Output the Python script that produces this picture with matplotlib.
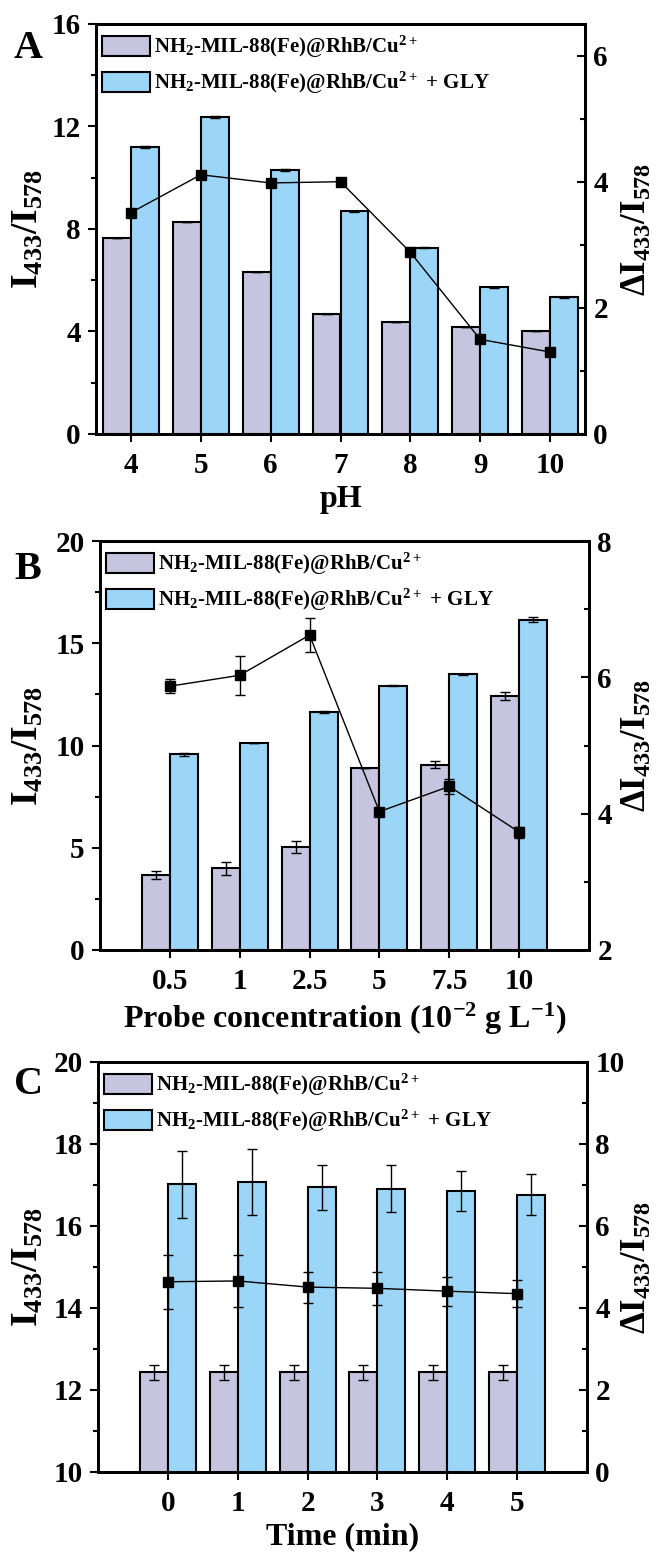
import matplotlib
matplotlib.use('Agg')
import matplotlib.pyplot as plt
from matplotlib.ticker import MultipleLocator
from matplotlib.patches import Patch

plt.rcParams['font.family'] = ['Liberation Serif', 'DejaVu Serif']
plt.rcParams['font.weight'] = 'bold'
plt.rcParams['axes.labelweight'] = 'bold'
plt.rcParams['mathtext.default'] = 'regular'

# ---- data ----
# panel A: pH
ph_labels = ['4', '5', '6', '7', '8', '9', '10']
ph_probe = [7.66, 8.29, 6.32, 4.69, 4.36, 4.17, 4.01]
ph_probe_err = [0, 0, 0, 0, 0, 0, 0]
ph_gly = [11.19, 12.38, 10.31, 8.69, 7.27, 5.72, 5.34]
ph_gly_err = [0.03, 0.03, 0.03, 0.02, 0.02, 0.02, 0.02]
ph_delta = [3.51, 4.11, 3.98, 4.00, 2.88, 1.50, 1.30]
ph_delta_err = [0, 0, 0, 0, 0, 0, 0]

# panel B: probe concentration
conc_labels = ['0.5', '1', '2.5', '5', '7.5', '10']
conc_probe = [3.68, 3.99, 5.02, 8.91, 9.07, 12.41]
conc_probe_err = [0.2, 0.3, 0.3, 0.0, 0.17, 0.2]
conc_gly = [9.56, 10.10, 11.64, 12.93, 13.49, 16.16]
conc_gly_err = [0.05, 0.0, 0.03, 0.04, 0.03, 0.1]
conc_delta = [5.87, 6.03, 6.62, 4.03, 4.40, 3.73]
conc_delta_err = [0.1, 0.29, 0.25, 0.05, 0.11, 0.08]

# panel C: time
time_labels = ['0', '1', '2', '3', '4', '5']
time_probe = [12.43, 12.43, 12.43, 12.43, 12.43, 12.43]
time_probe_err = [0.19, 0.19, 0.19, 0.19, 0.19, 0.19]
time_gly = [17.02, 17.07, 16.94, 16.91, 16.85, 16.76]
time_gly_err = [0.82, 0.8, 0.56, 0.57, 0.48, 0.5]
time_delta = [4.64, 4.66, 4.51, 4.48, 4.41, 4.35]
time_delta_err = [0.66, 0.63, 0.38, 0.4, 0.35, 0.33]

purple = '#C6C4DE'
blue = '#9BD6F9'
leg1 = r'NH$_2$-MIL-88(Fe)@RhB/Cu$^{2+}$'
leg2 = r'NH$_2$-MIL-88(Fe)@RhB/Cu$^{2+}$ + GLY'

W, H = 657, 1555


def panel(ax, labels, p, pe, g, ge, d, de, ylim, ymaj, ymin, y2lim, y2maj, y2min, xlim, xlabel):
    x = list(range(len(labels)))
    ek = dict(ecolor='black', elinewidth=1, capsize=3.5, capthick=1)
    ax.bar([i - 0.2 for i in x], p, 0.4, color=purple, edgecolor='black', linewidth=1.5,
           yerr=pe, error_kw=ek, zorder=2)
    ax.bar([i + 0.2 for i in x], g, 0.4, color=blue, edgecolor='black', linewidth=1.5,
           yerr=ge, error_kw=ek, zorder=2)
    ax.set_xlim(*xlim)
    ax.set_ylim(*ylim)
    ax.set_xticks(x)
    ax.set_xticklabels(labels)
    ax.yaxis.set_major_locator(MultipleLocator(ymaj))
    ax.yaxis.set_minor_locator(MultipleLocator(ymin))
    ax.tick_params(axis='y', which='major', direction='out', length=6, width=1.5, labelsize=21, pad=5)
    ax.tick_params(axis='y', which='minor', direction='out', length=3.5, width=1.5)
    ax.tick_params(axis='x', direction='out', length=6, width=1.5, labelsize=21, pad=7)
    for s in ax.spines.values():
        s.set_linewidth(2)
    ax.set_xlabel(xlabel, fontsize=23, labelpad=4)
    ax.set_ylabel('I$_{433}$/I$_{578}$', fontsize=27)
    pos = ax.get_position()
    left_px, width_px = pos.x0 * W, pos.width * W
    ax.yaxis.set_label_coords((46 - left_px) / width_px, 0.5)

    ax2 = ax.twinx()
    ax2.errorbar(x, d, yerr=de, color='black', marker='s', markersize=6.5, linewidth=1,
                 ecolor='black', elinewidth=1, capsize=3.5, capthick=1)
    ax2.set_ylim(*y2lim)
    ax2.yaxis.set_major_locator(MultipleLocator(y2maj))
    ax2.yaxis.set_minor_locator(MultipleLocator(y2min))
    ax2.tick_params(axis='y', which='major', direction='in', length=6, width=1.5, labelsize=21, pad=6)
    ax2.tick_params(axis='y', which='minor', direction='in', length=3.5, width=1.5)
    ax2.set_ylabel('ΔI$_{433}$/I$_{578}$', fontsize=25, rotation=90)
    ax2.yaxis.set_label_coords((621 - left_px) / width_px, 0.5)
    for s in ax2.spines.values():
        s.set_linewidth(2)

    handles = [Patch(facecolor=purple, edgecolor='black', linewidth=1.5),
               Patch(facecolor=blue, edgecolor='black', linewidth=1.5)]
    ax2.legend(handles, [leg1, leg2], loc='upper left', bbox_to_anchor=(0.012, 0.975),
               frameon=False, fontsize=15, handlelength=2.3, handleheight=1.1,
               handletextpad=0.2, labelspacing=0.45, borderpad=0, borderaxespad=0)


fig = plt.figure(figsize=(6.57, 15.55), dpi=100)
axA = fig.add_axes([96 / W, 1 - 434 / H, 489 / W, 410 / H])
axB = fig.add_axes([100 / W, 1 - 950 / H, 489 / W, 409 / H])
axC = fig.add_axes([98 / W, 1 - 1472 / H, 489 / W, 410 / H])

panel(axA, ph_labels, ph_probe, ph_probe_err, ph_gly, ph_gly_err, ph_delta, ph_delta_err,
      (0, 16), 4, 2, (0, 6.5), 2, 1, (-0.5, 6.5), 'pH')
panel(axB, conc_labels, conc_probe, conc_probe_err, conc_gly, conc_gly_err, conc_delta, conc_delta_err,
      (0, 20), 5, 2.5, (2, 8), 2, 1, (-1, 6), r'Probe concentration (10$^{-2}$ g L$^{-1}$)')
panel(axC, time_labels, time_probe, time_probe_err, time_gly, time_gly_err, time_delta, time_delta_err,
      (10, 20), 2, 1, (0, 10), 2, 1, (-1, 6), 'Time (min)')

for letter, ytop in [('A', 30), ('B', 551), ('C', 1066)]:
    fig.text(14 / W, 1 - ytop / H, letter, fontsize=29, fontweight='bold', va='top', ha='left')

fig.savefig('out.png', dpi=100)
